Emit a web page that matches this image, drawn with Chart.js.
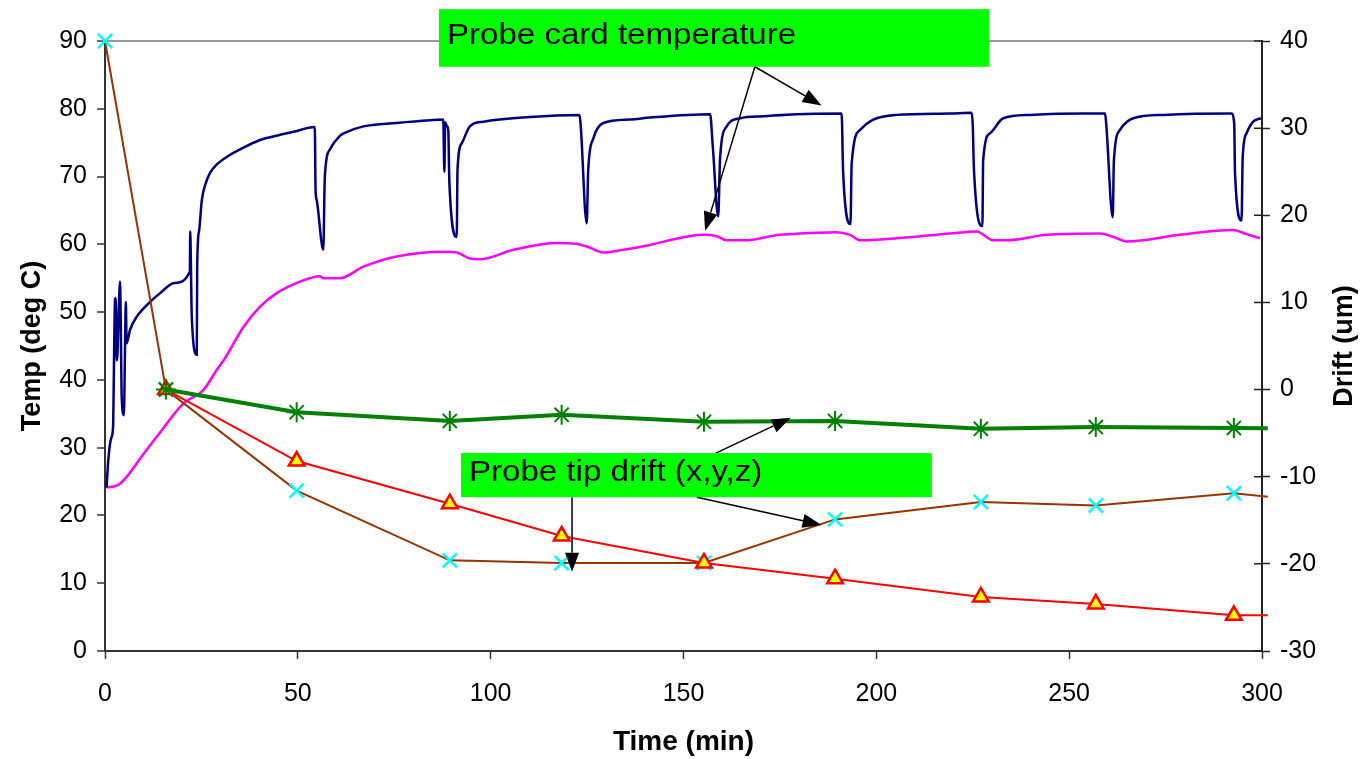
<!DOCTYPE html>
<html>
<head>
<meta charset="utf-8">
<script src="https://cdn.jsdelivr.net/npm/chart.js@4.4.0/dist/chart.umd.min.js"></script>
<style>
  html, body { margin: 0; padding: 0; background: #fff; }
</style>
</head>
<body>
<canvas id="myChart" width="1364" height="759"></canvas>
<script>
// probe card temperature (navy), [time min, deg C]
const cardTemp = [
  [0.4, 24.1], [0.9, 28.5], [1.6, 31.4], [2.1, 33.1], [2.2, 36.6], [2.6, 51.8], [2.8, 52.1],
  [3.0, 42.9], [3.2, 43.5], [3.9, 54.5], [4.1, 48], [4.3, 38], [4.9, 34.8], [5.2, 45],
  [5.4, 51.5], [5.6, 45.4], [6.5, 47.4], [8.2, 49.3], [11.7, 51.5], [14.3, 52.8], [18, 54.3],
  [22.0, 56.0], [22.1, 61.9], [22.3, 56], [22.5, 49.3], [23.8, 43.7], [23.9, 56.7], [24.4, 62],
  [25.1, 66.5], [26, 68.8], [27.2, 70.5], [29, 71.8], [31.6, 72.9], [35, 74], [40.2, 75.4],
  [45, 76.1], [48.8, 76.6], [54.4, 77.3], [54.6, 68], [54.9, 66.5], [56.6, 59.2], [57.0, 70],
  [58.3, 74], [60.9, 76.0], [62, 76.4], [67.0, 77.4], [75.6, 77.9], [84.3, 78.3], [87.7, 78.4],
  [88.0, 70.7], [88.2, 78.0], [88.6, 77.5], [89.0, 76.9], [89.3, 69], [91.2, 61.1], [91.4, 71],
  [92.5, 74.9], [94.6, 77.4], [98.1, 78.1], [110.2, 78.8], [123.0, 79.1], [123.3, 77.9],
  [124.9, 63.1], [125.3, 71], [126.6, 75.6], [129.2, 77.9], [136.1, 78.4], [141.3, 78.7],
  [156.9, 79.2], [157.6, 74.4], [159.0, 64.1], [159.5, 72.9], [161.2, 77.4], [164.7, 78.6],
  [170.7, 78.9], [179.3, 79.2], [191.0, 79.3], [191.4, 70.5], [193.3, 63.0], [193.6, 71.9],
  [195.8, 76.9], [199.2, 78.4], [205.3, 79.1], [219.1, 79.3], [224.7, 79.4], [225.0, 77.6],
  [225.3, 71.2], [227.5, 62.7], [227.7, 72.4], [229.5, 76.4], [232.9, 78.6], [239.8, 79.1],
  [253.6, 79.3], [259.3, 79.3], [259.6, 77.8], [261.3, 64.0], [261.6, 72.4], [263.2, 76.9],
  [266.6, 78.6], [274.4, 79.1], [292.1, 79.3], [292.8, 77.8], [293.0, 70.5], [294.7, 63.5],
  [295.0, 72.9], [296.0, 76.4], [297.7, 78.1], [299.7, 78.6]
];

// second temperature trace (magenta)
const chuckTemp = [
  [0.4, 24.1], [3.4, 24.5], [5.6, 25.7], [9.5, 28.7], [13.4, 31.6], [20.3, 36.5], [25.5, 38.5],
  [29.0, 41.5], [31.1, 43.2], [35.9, 47.8], [40.2, 50.8], [44.5, 52.8], [50.6, 54.5],
  [55.7, 55.3], [56.6, 55.0], [58.3, 55.0], [60.9, 55.0], [67.0, 56.7], [75.6, 58.2],
  [87.7, 58.9], [91.2, 58.8], [94.6, 57.9], [97.2, 57.8], [105.9, 59.2], [117.1, 60.2],
  [122, 60.1], [125.3, 59.6], [129.2, 58.8], [134.4, 59.2], [141.3, 59.9], [144.8, 60.4],
  [155.1, 61.4], [158.6, 61.2], [161.2, 60.6], [165.5, 60.6], [175, 61.4], [189.7, 61.8],
  [193.2, 61.4], [195.8, 60.6], [205.3, 60.9], [219.1, 61.6], [226, 61.9], [230.3, 60.6],
  [233.8, 60.6], [244.1, 61.4], [258, 61.6], [262.3, 60.9], [264.9, 60.4], [278.7, 61.4],
  [292.5, 62.1], [296, 61.5], [299.5, 60.9]
];

// probe tip drift (um), right axis; last entry is where the line stops past 300
const driftTime = [15.8, 49.7, 89.4, 118.4, 155.3, 189.3, 227.1, 256.9, 292.7, 301.5];
const driftGreen = [0.0, -2.6, -3.6, -2.9, -3.7, -3.6, -4.5, -4.3, -4.4, -4.45];
const driftRed = [0.0, -8.2, -13.1, -16.8, -19.9, -21.7, -23.8, -24.6, -25.9, -25.9];
const brownTime = [0, 15.8, 49.7, 89.4, 118.4, 155.3, 189.3, 227.1, 256.9, 292.7, 301.5];
const driftBrown = [40, 0, -11.6, -19.6, -19.9, -19.9, -14.9, -12.9, -13.3, -11.9, -12.3];

const xTicks = [0, 50, 100, 150, 200, 250, 300];
const tempTicks = [0, 10, 20, 30, 40, 50, 60, 70, 80, 90];
const driftTicks = [-30, -20, -10, 0, 10, 20, 30, 40];

// callouts, in (time, temp) units
const labelBoxes = [
  { text: "Probe card temperature", x0: 86.6, x1: 229.2, y0: 94.7, y1: 86.2 },
  { text: "Probe tip drift (x,y,z)", x0: 92.3, x1: 214.4, y0: 29.2, y1: 22.7 }
];
const arrows = [
  [168.5, 86.2, 185.8, 80.5],
  [168.5, 86.2, 155.6, 62.0],
  [158.4, 29.2, 177.8, 34.4],
  [153.5, 22.7, 185.8, 18.6],
  [121.1, 22.7, 121.1, 11.7]
];

const font = "'Liberation Sans', Arial, sans-serif";

function pairs(list) {
  return list.map((p) => ({ x: p[0], y: p[1] }));
}
function zip(xs, ys) {
  return xs.map((x, i) => ({ x: x, y: ys[i] }));
}
// no marker on the tail point beyond the axis
function markerSize(r) {
  return (c) => (c.raw && c.raw.x > 300 ? 0 : r);
}

function drawArrow(ctx, x0, y0, x1, y1) {
  const ang = Math.atan2(y1 - y0, x1 - x0);
  const len = 19, half = 7;
  const bx = x1 - len * Math.cos(ang);
  const by = y1 - len * Math.sin(ang);
  ctx.strokeStyle = "#000";
  ctx.lineWidth = 1.5;
  ctx.beginPath();
  ctx.moveTo(x0, y0);
  ctx.lineTo(bx, by);
  ctx.stroke();
  ctx.fillStyle = "#000";
  ctx.beginPath();
  ctx.moveTo(x1, y1);
  ctx.lineTo(bx + half * Math.sin(ang), by - half * Math.cos(ang));
  ctx.lineTo(bx - half * Math.sin(ang), by + half * Math.cos(ang));
  ctx.closePath();
  ctx.fill();
}

const calloutPlugin = {
  id: "callouts",
  afterDatasetsDraw(chart) {
    const ctx = chart.ctx;
    const xs = chart.scales.x;
    const ys = chart.scales.y;
    ctx.save();
    arrows.forEach((a) => {
      drawArrow(ctx, xs.getPixelForValue(a[0]), ys.getPixelForValue(a[1]),
        xs.getPixelForValue(a[2]), ys.getPixelForValue(a[3]));
    });
    labelBoxes.forEach((b) => {
      const left = xs.getPixelForValue(b.x0);
      const right = xs.getPixelForValue(b.x1);
      const top = ys.getPixelForValue(b.y0);
      const bottom = ys.getPixelForValue(b.y1);
      ctx.fillStyle = "#00ff00";
      ctx.fillRect(left, top, right - left, bottom - top);
      ctx.fillStyle = "#000";
      ctx.font = "29px " + font;
      ctx.textBaseline = "middle";
      ctx.save();
      ctx.translate(left + 8, (top + bottom) / 2);
      ctx.scale(1.14, 1);
      ctx.fillText(b.text, 0, -2);
      ctx.restore();
    });
    ctx.restore();
  },
  afterDraw(chart) {
    const ctx = chart.ctx;
    const s = chart.scales.y2;
    ctx.save();
    ctx.strokeStyle = "#222";
    ctx.lineWidth = 1.5;
    ctx.beginPath();
    s.ticks.forEach((t, i) => {
      const py = s.getPixelForTick(i);
      ctx.moveTo(s.left - 8, py);
      ctx.lineTo(s.left, py);
    });
    ctx.stroke();
    ctx.translate(1345, (chart.chartArea.top + chart.chartArea.bottom) / 2);
    ctx.rotate(-Math.PI / 2);
    ctx.font = "bold 27px " + font;
    ctx.fillStyle = "#000";
    ctx.textAlign = "center";
    ctx.textBaseline = "middle";
    ctx.fillText("Drift (um)", 0, 0);
    ctx.restore();
  }
};

new Chart(document.getElementById("myChart"), {
  type: "line",
  data: {
    datasets: [
      {
        label: "drift 1",
        data: zip(driftTime, driftGreen),
        yAxisID: "y2",
        clip: false,
        borderColor: "#008000",
        borderWidth: 4,
        pointStyle: "star",
        pointRadius: markerSize(10),
        pointBorderWidth: 2,
        pointBorderColor: "#008000",
        pointBackgroundColor: "#008000"
      },
      {
        label: "drift 2",
        data: zip(driftTime, driftRed),
        yAxisID: "y2",
        clip: false,
        borderColor: "#ff0000",
        borderWidth: 2,
        pointStyle: "triangle",
        pointRadius: markerSize(9),
        pointBorderWidth: 2.5,
        pointBorderColor: "#ff0000",
        pointBackgroundColor: "#ffff00"
      },
      {
        label: "drift 3",
        data: zip(brownTime, driftBrown),
        yAxisID: "y2",
        clip: false,
        borderColor: "#993300",
        borderWidth: 2,
        pointStyle: "crossRot",
        pointRadius: markerSize(10),
        pointBorderWidth: 2.5,
        pointBorderColor: "#00ffff",
        pointBackgroundColor: "#00ffff"
      },
      {
        label: "card temp",
        data: pairs(cardTemp),
        yAxisID: "y",
        borderColor: "#000080",
        borderWidth: 2.5,
        cubicInterpolationMode: "monotone",
        pointRadius: 0
      },
      {
        label: "temp 2",
        data: pairs(chuckTemp),
        yAxisID: "y",
        borderColor: "#ff00ff",
        borderWidth: 2.5,
        cubicInterpolationMode: "monotone",
        pointRadius: 0
      }
    ]
  },
  options: {
    responsive: false,
    animation: false,
    devicePixelRatio: 1,
    layout: { padding: { top: 41, left: 0, right: 0, bottom: 0 } },
    plugins: {
      legend: { display: false },
      tooltip: { enabled: false }
    },
    scales: {
      x: {
        type: "linear",
        min: 0,
        max: 300,
        afterBuildTicks: (s) => { s.ticks = xTicks.map((v) => ({ value: v })); },
        afterFit: (s) => { s.height = 108; },
        ticks: { color: "#000", font: { family: font, size: 25 }, padding: 20, maxRotation: 0 },
        grid: { drawOnChartArea: false, tickLength: 8, tickColor: "#333", tickWidth: 1.5 },
        border: { color: "#333", width: 2 },
        title: {
          display: true,
          text: "Time (min)",
          color: "#000",
          font: { family: font, size: 28, weight: "bold" },
          padding: { top: 0, bottom: 0 }
        }
      },
      y: {
        position: "left",
        min: 0,
        max: 90,
        afterBuildTicks: (s) => { s.ticks = tempTicks.map((v) => ({ value: v })); },
        afterFit: (s) => { s.width = 105; },
        ticks: { color: "#000", font: { family: font, size: 25 }, padding: 10 },
        grid: {
          color: (c) => (c.tick && c.tick.value === 90 ? "#999" : "rgba(0,0,0,0)"),
          lineWidth: 2,
          tickLength: 8,
          tickColor: "#333",
          tickWidth: 1.5
        },
        border: { color: "#333", width: 2 },
        title: {
          display: true,
          text: "Temp (deg C)",
          color: "#000",
          font: { family: font, size: 27, weight: "bold" },
          padding: { top: 16, bottom: 0 }
        }
      },
      y2: {
        position: "right",
        min: -30,
        max: 40,
        afterBuildTicks: (s) => { s.ticks = driftTicks.map((v) => ({ value: v })); },
        afterFit: (s) => { s.width = 102; },
        ticks: { color: "#000", font: { family: font, size: 25 }, padding: 10 },
        grid: { drawOnChartArea: false, tickLength: 8, tickColor: "#222", tickWidth: 1.5 },
        border: { color: "#222", width: 2 }
      }
    }
  },
  plugins: [calloutPlugin]
});
</script>
</body>
</html>
